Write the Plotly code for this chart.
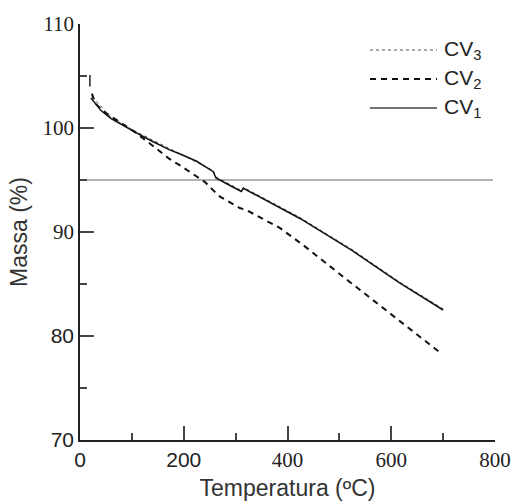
import plotly.graph_objects as go

# Thermogravimetric curves: temperature (ºC) vs residual mass (%)
temp_cv1 = [21, 40, 60, 80, 106, 140, 173, 193, 225, 257, 262, 290, 311, 315,
            360, 424, 460, 525, 616, 700]
mass_cv1 = [102.9, 101.7, 100.9, 100.3, 99.6, 98.7, 97.9, 97.5, 96.8, 95.8, 95.2,
            94.45, 93.9, 94.2, 93.0, 91.3, 90.2, 88.2, 85.1, 82.5]

temp_cv2 = [23, 29, 45, 70, 106, 140, 173, 193, 241, 257, 270, 308, 321, 385,
            430, 520, 636, 697]
mass_cv2 = [103.3, 102.4, 101.6, 100.8, 99.6, 98.3, 97.0, 96.4, 94.8, 94.0, 93.4,
            92.3, 92.1, 90.4, 88.75, 85.2, 80.7, 78.3]

temp_cv3 = [19, 19, None, 24, 60, 106, 173, 257, 262, 311, 315, 424, 525, 616, 700]
mass_cv3 = [105.1, 104.0, None, 103.0, 101.0, 99.7, 98.0, 95.9, 95.3, 94.0, 94.3,
            91.4, 88.3, 85.2, 82.6]

ref_mass = 95
ref_temp = [0, 796]

x_ticks = [0, 200, 400, 600, 800]
x_minor = [100, 300, 500, 700]
y_ticks = [70, 80, 90, 100, 110]
y_minor = [75, 85, 95, 105]

SERIF = "font-family:Liberation Serif"
SANS = "font-family:Liberation Sans"
x_labels = [f"<span style=\"{SANS}\">0</span>",
            f"<span style=\"{SANS}\">200</span>",
            f"<span style=\"{SERIF}\">400</span>",
            f"<span style=\"{SERIF}\">600</span>",
            f"<span style=\"{SERIF}\">800</span>"]
y_labels = [f"<span style=\"{SANS}\">70</span>",
            f"<span style=\"{SANS}\">80</span>",
            f"<span style=\"{SERIF}\">90</span>",
            f"<span style=\"{SERIF}\">100</span>",
            f"<span style=\"{SERIF}\">110</span>"]

legend_items = [("CV<sub>3</sub>", "dot", 1, "#555555"),
                ("CV<sub>2</sub>", "6px,5px", 2, "#111111"),
                ("CV<sub>1</sub>", "solid", 1.5, "#444444")]

W, H = 512, 502
ML, MR, MT, MB = 80, 17, 24, 62
PW, PH = W - ML - MR, H - MT - MB


def px_to_paper(px, py):
    return (px - ML) / PW, (H - MB - py) / PH


fig = go.Figure()

fig.add_trace(go.Scatter(x=ref_temp, y=[ref_mass, ref_mass], mode="lines",
                         line=dict(color="#666666", width=1), showlegend=False,
                         hoverinfo="skip"))
fig.add_trace(go.Scatter(x=temp_cv3[:2], y=mass_cv3[:2], mode="lines",
                         line=dict(color="#222222", width=1.5), showlegend=False,
                         hoverinfo="skip"))
fig.add_trace(go.Scatter(x=temp_cv3, y=mass_cv3, mode="lines", name="CV3",
                         line=dict(color="#555555", width=1, dash="dot"),
                         connectgaps=False, showlegend=False))
fig.add_trace(go.Scatter(x=temp_cv2, y=mass_cv2, mode="lines", name="CV2",
                         line=dict(color="#111111", width=2, dash="6px,5px"),
                         showlegend=False))
fig.add_trace(go.Scatter(x=temp_cv1, y=mass_cv1, mode="lines", name="CV1",
                         line=dict(color="#111111", width=1.5), showlegend=False))

# Key in the upper right corner
shapes = []
annotations = []
for i, (label, dash, width, color) in enumerate(legend_items):
    py = 50 + i * 29
    x0, y0 = px_to_paper(370, py)
    x1, _ = px_to_paper(437, py)
    shapes.append(dict(type="line", xref="paper", yref="paper", x0=x0, x1=x1,
                       y0=y0, y1=y0, line=dict(color=color, width=width, dash=dash)))
    tx, _ = px_to_paper(442, py)
    annotations.append(dict(xref="paper", yref="paper", x=tx, y=y0, text=label,
                            showarrow=False, xanchor="left", yanchor="middle",
                            font=dict(family="Liberation Sans, Arial", size=21,
                                      color="#222222")))

axis_common = dict(showline=True, linecolor="#222222", linewidth=1.5,
                   ticks="inside", ticklen=14, tickwidth=1.5, tickcolor="#444444",
                   showgrid=False, zeroline=False, mirror=False, automargin=False,
                   tickfont=dict(family="Liberation Sans, Arial", size=21,
                                 color="#222222"))

fig.update_layout(
    width=W, height=H,
    margin=dict(l=ML, r=MR, t=MT, b=MB, pad=0, autoexpand=False),
    paper_bgcolor="white", plot_bgcolor="white",
    shapes=shapes, annotations=annotations,
    xaxis=dict(range=[0, 800], tickmode="array", tickvals=x_ticks,
               ticktext=x_labels,
               minor=dict(tickvals=x_minor, ticks="inside", ticklen=7,
                          tickwidth=1.5, tickcolor="#444444"),
               title=dict(text="Temperatura (ºC)", standoff=9,
                          font=dict(family="Liberation Sans, Arial", size=23,
                                    color="#333333")),
               **axis_common),
    yaxis=dict(range=[70, 110], tickmode="array", tickvals=y_ticks,
               ticktext=y_labels,
               minor=dict(tickvals=y_minor, ticks="inside", ticklen=7,
                          tickwidth=1.5, tickcolor="#444444"),
               title=dict(text="Massa (%)", standoff=8,
                          font=dict(family="Liberation Sans, Arial", size=23,
                                    color="#333333")),
               **axis_common),
)

fig.write_html("out.html")
